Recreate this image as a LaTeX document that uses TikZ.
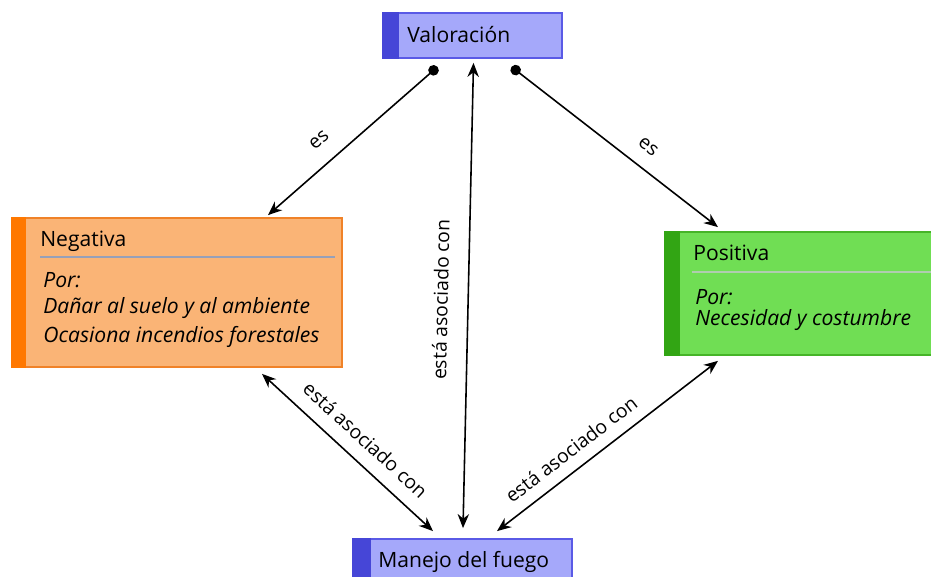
\documentclass[tikz,border=0pt]{standalone}
\usepackage{fontspec}
\setmainfont{Open Sans}
\usetikzlibrary{arrows.meta}
\definecolor{valfill}{RGB}{165,168,250}
\definecolor{valdraw}{RGB}{90,90,230}
\definecolor{valstrip}{RGB}{70,70,215}
\definecolor{negfill}{RGB}{250,180,118}
\definecolor{negdraw}{RGB}{240,130,40}
\definecolor{negstrip}{RGB}{255,120,0}
\definecolor{posfill}{RGB}{112,222,84}
\definecolor{posdraw}{RGB}{70,180,40}
\definecolor{posstrip}{RGB}{50,165,20}
\definecolor{negsep}{RGB}{150,160,185}
\definecolor{possep}{RGB}{175,205,175}
\tikzset{
  box/.style={draw, line width=1pt, inner sep=0pt},
  valbox/.style={box, fill=valfill, draw=valdraw},
  negbox/.style={box, fill=negfill, draw=negdraw},
  posbox/.style={box, fill=posfill, draw=posdraw},
  title/.style={anchor=west, inner sep=0pt, font=\fontsize{12}{14}\selectfont},
  body/.style={anchor=west, inner sep=0pt, font=\fontsize{12}{14}\selectfont\itshape},
  link/.style={line width=0.9pt, {Stealth[length=8pt,width=6.5pt]}-{Stealth[length=8pt,width=6.5pt]}},
  dotlink/.style={line width=0.9pt, {Circle[length=6pt]}-{Stealth[length=8pt,width=6.5pt]}},
  lbl/.style={sloped, inner sep=1pt, font=\fontsize{11}{13}\selectfont},
}
\begin{document}
\begin{tikzpicture}[x=0.02cm, y=-0.02cm]
\useasboundingbox[fill=white] (0,0) rectangle (931,577);
% boxes
\node[valbox, minimum width=179*0.02cm, minimum height=45*0.02cm] (val) at (472.5,35.5) {};
\node[negbox, minimum width=330*0.02cm, minimum height=149*0.02cm] (neg) at (177,292.5) {};
\node[posbox, minimum width=270*0.02cm, minimum height=123*0.02cm] (pos) at (800,293.5) {};
\node[valbox, minimum width=219*0.02cm, minimum height=46*0.02cm] (man) at (462.5,562) {};
% left strips
\fill[valstrip] (val.north west) rectangle ([shift={(17,0)}]val.south west);
\fill[negstrip] (neg.north west) rectangle ([shift={(15,0)}]neg.south west);
\fill[posstrip] (pos.north west) rectangle ([shift={(16,0)}]pos.south west);
\fill[valstrip] (man.north west) rectangle ([shift={(19,0)}]man.south west);
% texts
\node[title] (valtxt) at (407,35) {Valoración};
\node[title] (mantxt) at (378,562) {Manejo del fuego};
\node[title] (negtit) at (40,241) {Negativa};
\draw[negsep, line width=0.8pt] (40,257) -- (335,257);
\node[body] (neg1) at (43,280) {Por:};
\node[body] (neg2) at (43,308) {Dañar al suelo y al ambiente};
\node[body] (neg3) at (43,337) {Ocasiona incendios forestales};
\node[title] (postit) at (693,253) {Positiva};
\draw[possep, line width=0.8pt] (692,272) -- (931,272);
\node[body] (pos1) at (695,297) {Por:};
\node[body] (pos2) at (695,320) {Necesidad y costumbre};
% connectors
\draw[dotlink] ([shift={(-35,8)}]val.south) -- node[lbl, pos=0.61, above=8.5pt] {es} ([shift={(91,-2)}]neg.north);
\draw[dotlink] ([shift={(39,8)}]val.south) -- node[lbl, pos=0.6, above=7.4pt] {es} ([shift={(-82,-4)}]pos.north);
\draw[link] ([shift={(0.5,-10)}]man.north) -- node[lbl, pos=0.49, above=10pt] {está asociado con} ([shift={(1,4)}]val.south);
\draw[link] ([shift={(85,6)}]neg.south) -- node[lbl, pos=0.52, above=6.6pt] {está asociado con} ([shift={(-29.5,-7)}]man.north);
\draw[link] ([shift={(34.5,-7)}]man.north) -- node[lbl, pos=0.39, above=5.5pt] {está asociado con} ([shift={(-82,5)}]pos.south);
\end{tikzpicture}
\end{document}
